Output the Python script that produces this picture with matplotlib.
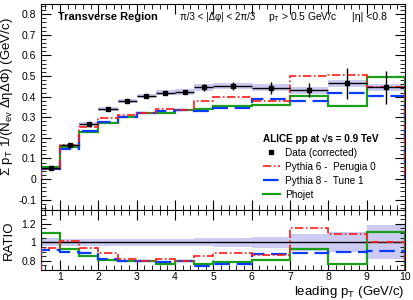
import matplotlib
matplotlib.use('Agg')
import numpy as np
import matplotlib.pyplot as plt
from matplotlib.lines import Line2D
from matplotlib.ticker import MultipleLocator, FormatStrFormatter

plt.rcParams.update({
    'font.family': ['Liberation Sans', 'DejaVu Sans'],
    'mathtext.fontset': 'custom',
    'mathtext.rm': 'Liberation Sans',
    'mathtext.it': 'Liberation Sans:italic',
    'font.size': 7,
})

# bin edges of leading pT (GeV/c)
edges = [0.5, 1, 1.5, 2, 2.5, 3, 3.5, 4, 4.5, 5, 6, 7, 8, 9, 10]

# data (corrected) and errors
data = [0.052, 0.165, 0.267, 0.338, 0.379, 0.403, 0.419, 0.421, 0.445,
        0.451, 0.443, 0.432, 0.464, 0.445]
stat = [0.001, 0.002, 0.003, 0.004, 0.005, 0.006, 0.007, 0.008, 0.018,
        0.018, 0.030, 0.036, 0.077, 0.081]
syst = [0.003, 0.006, 0.008, 0.010, 0.011, 0.012, 0.013, 0.014, 0.016,
        0.016, 0.016, 0.017, 0.017, 0.018]

# MC / data ratios
ratio_p6 = [0.935, 1.01, 0.94, 0.88, 0.815, 0.80, 0.815, 0.80, 0.85,
            0.885, 0.86, 1.155, 1.09, 1.0]
ratio_p8 = [0.92, 0.895, 0.88, 0.82, 0.80, 0.80, 0.785, 0.80, 0.745,
            0.77, 0.875, 0.88, 0.895, 0.905]
ratio_phojet = [1.105, 0.93, 0.85, 0.81, 0.80, 0.80, 0.77, 0.80, 0.76,
                0.785, 0.81, 0.93, 0.76, 1.11]
# total uncertainty band of the ratio
ratio_band = [0.045, 0.04, 0.04, 0.04, 0.04, 0.04, 0.04, 0.04, 0.045,
              0.047, 0.058, 0.095, 0.11, 0.185]

edges_a = np.array(edges)
centers = 0.5 * (edges_a[1:] + edges_a[:-1])
half = 0.5 * (edges_a[1:] - edges_a[:-1])
data_a = np.array(data)
p6 = np.array(ratio_p6) * data_a
p8 = np.array(ratio_p8) * data_a
phojet = np.array(ratio_phojet) * data_a

band_col = '#ccccf2'
red = '#ff1a1a'
blue = '#0a3cff'
green = '#18a018'
ls_red = (0, (5, 1.5, 1, 1.5))
ls_blue = (0, (7, 3))

fig = plt.figure(figsize=(4.14, 3.0), dpi=100)
ax = fig.add_axes([0.099, 0.30, 0.879, 0.687])
axr = fig.add_axes([0.099, 0.10, 0.879, 0.20])

# ---- top panel
ax.bar(edges_a[:-1], 2 * np.array(syst), bottom=data_a - np.array(syst),
       width=2 * half, align='edge', color=band_col, lw=0, zorder=1)
ax.stairs(p8, edges, color=blue, lw=1.6, ls=ls_blue, zorder=3)
ax.stairs(p6, edges, color=red, lw=1.2, ls=ls_red, zorder=4)
ax.stairs(phojet, edges, color=green, lw=1.6, zorder=2)
ax.errorbar(centers, data, xerr=half, yerr=stat, fmt='s', ms=3.2,
            color='black', lw=1, capsize=0, zorder=5)

ax.set_xlim(0.5, 10)
ax.set_ylim(-0.15, 0.85)
ax.set_ylabel(r'Σ p$_{\rm T}$ 1/(N$_{\rm ev}$ ΔηΔΦ) (GeV/c)', fontsize=9.5)
ax.yaxis.set_label_coords(-0.072, 0.55)
ax.xaxis.set_major_locator(MultipleLocator(1))
ax.xaxis.set_minor_locator(MultipleLocator(0.2))
ax.yaxis.set_major_locator(MultipleLocator(0.1))
ax.yaxis.set_minor_locator(MultipleLocator(0.02))
ax.yaxis.set_major_formatter(FormatStrFormatter('%g'))
ax.tick_params(which='both', direction='in', top=True, right=True,
               labelbottom=False, labelsize=7.5)
ax.tick_params(which='major', length=7)
ax.tick_params(which='minor', length=3.5)

ax.text(0.047, 0.937, 'Transverse Region', transform=ax.transAxes,
        fontsize=8, fontweight='bold', va='center')
ax.text(0.382, 0.937, 'π/3 < |Δφ| < 2π/3', transform=ax.transAxes,
        fontsize=7.0, va='center')
ax.text(0.623, 0.937, r'p$_{\rm T}$ > 0.5 GeV/c', transform=ax.transAxes,
        fontsize=7.4, va='center')
ax.text(0.855, 0.937, '|η| <0.8', transform=ax.transAxes,
        fontsize=7.6, va='center')

handles = [
    Line2D([], [], color='black', marker='s', ms=3.2, ls='none'),
    Line2D([], [], color=red, lw=1.2, ls=ls_red),
    Line2D([], [], color=blue, lw=1.6, ls=ls_blue),
    Line2D([], [], color=green, lw=1.6),
]
labels = ['Data (corrected)', 'Pythia 6 -  Perugia 0',
          'Pythia 8 -  Tune 1', 'Phojet']
leg = ax.legend(handles, labels, loc='upper left',
                bbox_to_anchor=(0.59, 0.405), frameon=False, fontsize=7.2,
                title='ALICE pp at √s = 0.9 TeV',
                title_fontproperties={'weight': 'bold', 'size': 7.2},
                alignment='left', handlelength=1.7, handletextpad=0.55,
                labelspacing=0.4, borderpad=0.2)

# ---- ratio panel
axr.bar(edges_a[:-1], 2 * np.array(ratio_band),
        bottom=1 - np.array(ratio_band), width=2 * half, align='edge',
        color=band_col, lw=0, zorder=1)
axr.axhline(1, color='black', lw=1, zorder=2)
axr.stairs(ratio_p8, edges, color=blue, lw=1.6, ls=ls_blue, zorder=3)
axr.stairs(ratio_p6, edges, color=red, lw=1.2, ls=ls_red, zorder=4)
axr.stairs(ratio_phojet, edges, color=green, lw=1.6, zorder=2)

axr.set_xlim(0.5, 10)
axr.set_ylim(0.7, 1.35)
axr.xaxis.set_major_locator(MultipleLocator(1))
axr.xaxis.set_minor_locator(MultipleLocator(0.2))
axr.yaxis.set_major_locator(MultipleLocator(0.2))
axr.yaxis.set_minor_locator(MultipleLocator(0.05))
axr.yaxis.set_major_formatter(FormatStrFormatter('%g'))
axr.tick_params(which='both', direction='in', top=True, right=True,
                labelsize=7.5)
axr.tick_params(axis='x', pad=1.5)
axr.tick_params(which='major', length=7)
axr.tick_params(which='minor', length=3.5)
axr.set_ylabel('RATIO', fontsize=9.5)
axr.yaxis.set_label_coords(-0.072, 0.5)
axr.set_xlabel(r'leading p$_{\rm T}$ (GeV/c)', fontsize=9.5)
axr.xaxis.set_label_coords(1.0, -0.23)
axr.xaxis.label.set_horizontalalignment('right')

fig.savefig('out.png', dpi=100)
